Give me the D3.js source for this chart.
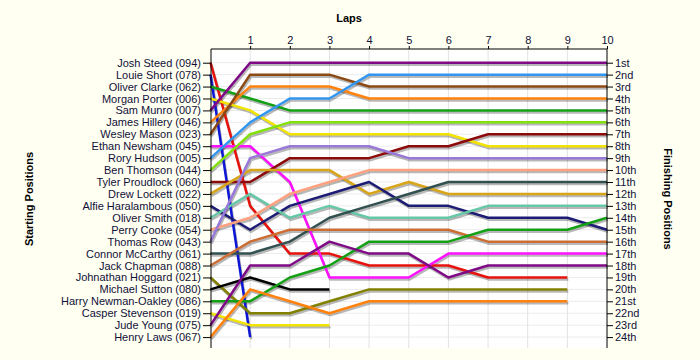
<!DOCTYPE html>
<html>
<head>
<meta charset="utf-8">
<script src="https://cdn.jsdelivr.net/npm/d3@7"></script>
<style>
body { margin: 0; background: #fffff2; }
svg { display: block; font-family: "Liberation Sans", Arial, sans-serif; }
</style>
</head>
<body>
<script>
// drivers in starting order
var drivers = ["Josh Steed (094)", "Louie Short (078)", "Oliver Clarke (062)", "Morgan Porter (006)",
    "Sam Munro (007)", "James Hillery (046)", "Wesley Mason (023)", "Ethan Newsham (045)",
    "Rory Hudson (005)", "Ben Thomson (044)", "Tyler Proudlock (060)", "Drew Lockett (022)",
    "Alfie Haralambous (050)", "Oliver Smith (018)", "Perry Cooke (054)", "Thomas Row (043)",
    "Connor McCarthy (061)", "Jack Chapman (088)", "Johnathan Hoggard (021)", "Michael Sutton (080)",
    "Harry Newman-Oakley (086)", "Casper Stevenson (019)", "Jude Young (075)", "Henry Laws (067)"];

var colors = ["#e8120c", "#0c16d4", "#14a014", "#f2e400", "#7e0a86", "#ff820e",
    "#8b4a14", "#ff10ff", "#3296f0", "#82e00c", "#8c0a0a", "#d8a418",
    "#1c1c74", "#66c8a8", "#ffa07e", "#9878d8", "#325050", "#cc6e34",
    "#828000", "#000000", "#14a014", "#f2e400", "#7e0a86", "#ff820e"];

// position at lap 0..N (list stops when the driver stops)
var positions = [
    [1, 13, 17, 17, 18, 18, 18, 19, 19, 19],
    [2, 24],
    [3, 4, 5, 5, 5, 5, 5, 5, 5, 5, 5],
    [4, 5, 7, 7, 7, 7, 7, 8, 8, 8, 8],
    [5, 1, 1, 1, 1, 1, 1, 1, 1, 1, 1],
    [6, 3, 3, 3, 4, 4, 4, 4, 4, 4, 4],
    [7, 2, 2, 2, 3, 3, 3, 3, 3, 3, 3],
    [8, 8, 11, 19, 19, 19, 17, 17, 17, 17, 17],
    [9, 6, 4, 4, 2, 2, 2, 2, 2, 2, 2],
    [10, 7, 6, 6, 6, 6, 6, 6, 6, 6, 6],
    [11, 11, 9, 9, 9, 8, 8, 7, 7, 7, 7],
    [12, 10, 10, 10, 12, 11, 12, 12, 12, 12, 12],
    [13, 15, 13, 12, 11, 13, 13, 14, 14, 14, 15],
    [14, 12, 14, 13, 14, 14, 14, 13, 13, 13, 13],
    [15, 14, 12, 11, 10, 10, 10, 10, 10, 10, 10],
    [16, 9, 8, 8, 8, 9, 9, 9, 9, 9, 9],
    [17, 17, 16, 14, 13, 12, 11, 11, 11, 11, 11],
    [18, 16, 15, 15, 15, 15, 15, 16, 16, 16, 16],
    [19, 22, 22, 21, 20, 20, 20, 20, 20, 20],
    [20, 19, 20, 20],
    [21, 21, 19, 18, 16, 16, 16, 15, 15, 15, 14],
    [22, 23, 23, 23],
    [23, 18, 18, 16, 17, 17, 19, 18, 18, 18, 18],
    [24, 20, 21, 22, 21, 21, 21, 21, 21, 21]
];

var laps = d3.range(0, 11);
var finishLabels = ["1st", "2nd", "3rd", "4th", "5th", "6th", "7th", "8th", "9th", "10th", "11th", "12th",
    "13th", "14th", "15th", "16th", "17th", "18th", "19th", "20th", "21st", "22nd", "23rd", "24th"];

var width = 700, height = 360;
var plotLeft = 211, plotRight = 607, plotTop = 49, plotBottom = 348;
var textColor = "#101038";

var svg = d3.select("body").append("svg")
    .attr("width", width)
    .attr("height", height);

var x = d3.scaleLinear().domain([0, 10]).range([210.5, 607]);
var y = d3.scaleLinear().domain([1, 24]).range([62.7, 337.1]);

// plot background
svg.append("rect")
    .attr("x", plotLeft).attr("y", plotTop)
    .attr("width", plotRight - plotLeft).attr("height", plotBottom - plotTop)
    .style("fill", "#fff");

// grid
svg.append("g").selectAll("line")
    .data(d3.range(1, 25))
    .enter().append("line")
    .attr("x1", plotLeft).attr("x2", plotRight)
    .attr("y1", function(d) { return y(d); })
    .attr("y2", function(d) { return y(d); })
    .style("stroke", "#ececec");
svg.append("g").selectAll("line")
    .data(laps.slice(1, 10))
    .enter().append("line")
    .attr("x1", function(d) { return x(d); })
    .attr("x2", function(d) { return x(d); })
    .attr("y1", plotTop).attr("y2", plotBottom)
    .style("stroke", "#e2e2e2");

var line = d3.line()
    .x(function(d, i) { return x(i); })
    .y(function(d) { return y(d); });

// shadows first, then the coloured lines
svg.append("g")
    .attr("transform", "translate(1,2)")
    .selectAll("path")
    .data(positions)
    .enter().append("path")
    .attr("d", line)
    .style("fill", "none")
    .style("stroke", "#000")
    .style("stroke-opacity", 0.28)
    .style("stroke-width", 2.5);

svg.append("g").selectAll("path")
    .data(positions)
    .enter().append("path")
    .attr("d", line)
    .style("fill", "none")
    .style("stroke", function(d, i) { return colors[i]; })
    .style("stroke-width", 2.5)
    .style("stroke-linejoin", "round");

// frame
svg.append("line").attr("x1", plotLeft).attr("x2", plotRight).attr("y1", plotTop).attr("y2", plotTop).style("stroke", "#000");
svg.append("line").attr("x1", plotLeft).attr("x2", plotLeft).attr("y1", plotTop).attr("y2", plotBottom).style("stroke", "#000");
svg.append("line").attr("x1", plotRight).attr("x2", plotRight).attr("y1", plotTop).attr("y2", plotBottom).style("stroke", "#000");

// axes
var axisTop = svg.append("g")
    .attr("transform", "translate(0," + plotTop + ")")
    .call(d3.axisTop(x).tickValues(laps.slice(1)).tickSize(3).tickPadding(2).tickFormat(d3.format("d")));

var axisLeft = svg.append("g")
    .attr("transform", "translate(" + plotLeft + ",0)")
    .call(d3.axisLeft(y).tickValues(d3.range(1, 25)).tickSize(8).tickPadding(2)
        .tickFormat(function(d) { return drivers[d - 1]; }));

var axisRight = svg.append("g")
    .attr("transform", "translate(" + plotRight + ",0)")
    .call(d3.axisRight(y).tickValues(d3.range(1, 25)).tickSize(6).tickPadding(2)
        .tickFormat(function(d) { return finishLabels[d - 1]; }));

[axisTop, axisLeft, axisRight].forEach(function(a) {
    a.select(".domain").remove();
    a.selectAll("text")
        .style("font-family", "'Liberation Sans', Arial, sans-serif")
        .style("font-size", "11px")
        .style("fill", textColor);
    a.selectAll("line").style("stroke", "#000");
});

// titles
svg.append("text")
    .attr("x", 349).attr("y", 22)
    .attr("text-anchor", "middle")
    .style("font-size", "11px").style("font-weight", "bold")
    .text("Laps");

svg.append("text")
    .attr("transform", "translate(33,199) rotate(-90)")
    .attr("text-anchor", "middle")
    .style("font-size", "11px").style("font-weight", "bold")
    .text("Starting Positions");

svg.append("text")
    .attr("transform", "translate(664,199) rotate(90)")
    .attr("text-anchor", "middle")
    .style("font-size", "11px").style("font-weight", "bold")
    .text("Finishing Positions");
</script>
</body>
</html>
